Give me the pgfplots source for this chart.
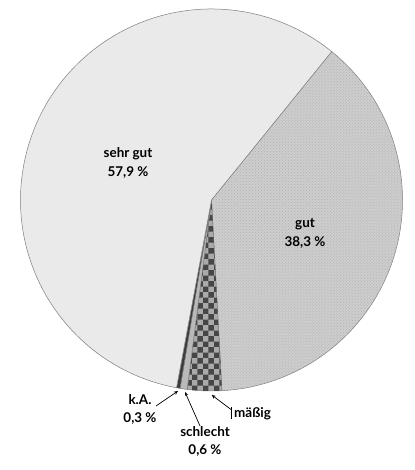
\documentclass[border=0pt]{standalone}
\usepackage{fontspec}
\setmainfont{Lato}
\usepackage{pgfplots}
\usepackage{pgfplotstable}
\pgfplotsset{compat=1.18}
\usetikzlibrary{patterns,arrows.meta}
\definecolor{sehrgutc}{RGB}{234,234,234}
\definecolor{gutc}{RGB}{206,206,206}
\definecolor{gutdots}{RGB}{175,175,175}
\definecolor{maessigc}{RGB}{170,170,170}
\definecolor{maessigdots}{RGB}{70,70,70}
\definecolor{schlechtc}{RGB}{185,185,185}
\definecolor{kac}{RGB}{60,60,60}
\definecolor{edgec}{RGB}{125,125,125}

\pgfplotstableread{
label value
gut 38.3
maessig 2.9
schlecht 0.6
kA 0.3
sehrgut 57.9
}\piedata

\begin{document}%
\begin{tikzpicture}
\pgfplotstablegetelem{0}{value}\of\piedata \let\vA\pgfplotsretval
\pgfplotstablegetelem{1}{value}\of\piedata \let\vB\pgfplotsretval
\pgfplotstablegetelem{2}{value}\of\piedata \let\vC\pgfplotsretval
\pgfplotstablegetelem{3}{value}\of\piedata \let\vD\pgfplotsretval
\pgfplotstablegetelem{4}{value}\of\piedata \let\vE\pgfplotsretval
\pgfmathsetmacro{\aA}{51}
\pgfmathsetmacro{\aB}{\aA-3.6*\vA}
\pgfmathsetmacro{\aC}{\aB-3.6*\vB}
\pgfmathsetmacro{\aD}{\aC-3.6*\vC}
\pgfmathsetmacro{\aE}{\aD-3.6*\vD}
\pgfmathsetmacro{\aF}{\aE-3.6*\vE}
\def\cx{211.5}\def\cy{270}\def\R{191}
\begin{axis}[
  x=1bp, y=1bp, scale only axis,
  xmin=0, xmax=414, ymin=0, ymax=470,
  hide axis, clip=false,
]
\coordinate (bl) at (axis cs:0,0);
\coordinate (tr) at (axis cs:414,470);
% slices
\fill[gutc, draw=edgec, line width=0.5pt] (axis cs:\cx,\cy) -- (axis cs:{\cx+\R*cos(\aA)},{\cy+\R*sin(\aA)}) arc[start angle=\aA, end angle=\aB, radius=191bp] -- cycle;
\fill[pattern=crosshatch dots, pattern color=gutdots] (axis cs:\cx,\cy) -- (axis cs:{\cx+\R*cos(\aA)},{\cy+\R*sin(\aA)}) arc[start angle=\aA, end angle=\aB, radius=191bp] -- cycle;
\fill[maessigc, draw=edgec, line width=0.5pt] (axis cs:\cx,\cy) -- (axis cs:{\cx+\R*cos(\aB)},{\cy+\R*sin(\aB)}) arc[start angle=\aB, end angle=\aC, radius=191bp] -- cycle;
\fill[pattern=checkerboard, pattern color=maessigdots] (axis cs:\cx,\cy) -- (axis cs:{\cx+\R*cos(\aB)},{\cy+\R*sin(\aB)}) arc[start angle=\aB, end angle=\aC, radius=191bp] -- cycle;
\fill[schlechtc, draw=edgec, line width=0.5pt] (axis cs:\cx,\cy) -- (axis cs:{\cx+\R*cos(\aC)},{\cy+\R*sin(\aC)}) arc[start angle=\aC, end angle=\aD, radius=191bp] -- cycle;
\fill[kac, draw=edgec, line width=0.5pt] (axis cs:\cx,\cy) -- (axis cs:{\cx+\R*cos(\aD)},{\cy+\R*sin(\aD)}) arc[start angle=\aD, end angle=\aE, radius=191bp] -- cycle;
\fill[sehrgutc, draw=edgec, line width=0.5pt] (axis cs:\cx,\cy) -- (axis cs:{\cx+\R*cos(\aE)},{\cy+\R*sin(\aE)}) arc[start angle=\aE, end angle=\aF, radius=191bp] -- cycle;
% labels
\node[align=center, font=\bfseries\fontsize{13.5}{19}\selectfont] at (axis cs:128,307) {sehr gut\\57,9 \%};
\node[align=center, font=\bfseries\fontsize{13.5}{19}\selectfont] at (axis cs:305,237) {gut\\38,3 \%};
\node[align=center, font=\bfseries\fontsize{13.5}{18}\selectfont] at (axis cs:140,61) {k.A.\\0,3 \%};
\node[align=center, font=\bfseries\fontsize{13.5}{18}\selectfont] at (axis cs:205,29) {schlecht\\0,6 \%};
\node[anchor=west, font=\bfseries\fontsize{13.5}{18}\selectfont, inner sep=1pt] at (axis cs:233,56) {mäßig};
% leaders
\draw[line width=0.7pt, -{Stealth[length=4pt,width=3.5pt]}] (axis cs:156,64) -- (axis cs:178,79);
\draw[line width=0.7pt, -{Stealth[length=4pt,width=3.5pt]}] (axis cs:200,44) -- (axis cs:185,78);
\draw[line width=0.7pt, -{Stealth[length=4pt,width=3.5pt]}] (axis cs:231.7,60) -- (axis cs:211.7,75);
\draw[line width=0.9pt] (axis cs:231.7,51) -- (axis cs:231.7,63);
\end{axis}
\pgfresetboundingbox
\useasboundingbox (bl) rectangle (tr);
\end{tikzpicture}%
\end{document}
